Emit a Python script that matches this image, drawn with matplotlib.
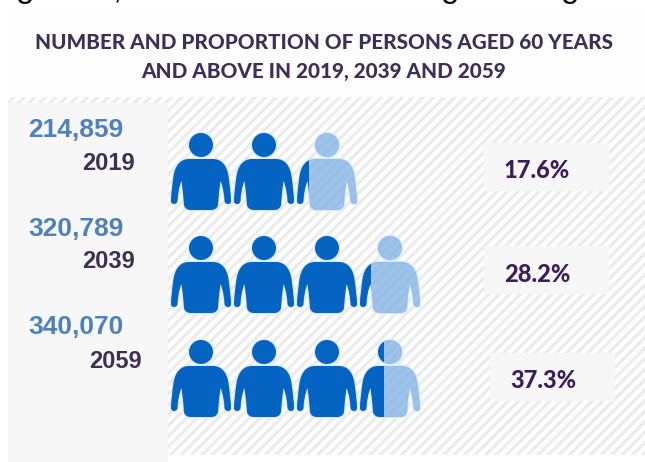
from matplotlib import pyplot as plt
from matplotlib.patches import Rectangle, Circle, PathPatch
from matplotlib.path import Path
import numpy as np

years = ['2019', '2039', '2059']
persons = ['214,859', '320,789', '340,070']
shares = ['17.6%', '28.2%', '37.3%']
# how many figures are filled
filled = [2.2, 3.18, 3.4]
icons = [3, 4, 4]

title = 'NUMBER AND PROPORTION OF PERSONS AGED 60 YEARS\nAND ABOVE IN 2019, 2039 AND 2059'

DARK = '#0563c1'
LIGHT = '#7fb0e4'
PURPLE = '#3d2f56'
PCT = '#3f1d5c'
BLUE = '#4f81bd'
PANEL = '#f7f7f7'

fig = plt.figure(figsize=(6.45, 4.62), dpi=100)
ax = fig.add_axes([0, 0, 1, 1])
ax.set_xlim(0, 645)
ax.set_ylim(462, 0)
ax.axis('off')


def body_path(cx, cy):
    verts = [
        (-12, 14),
        (-21, 14), (-26, 21), (-27.5, 31),
        (-29, 42), (-30, 50), (-30, 56),
        (-30, 60), (-24, 60), (-23.5, 56),
        (-23, 48), (-22, 42), (-19.5, 36),
        (-18.5, 44), (-17.5, 52), (-17, 60),
        (-16, 64), (-13, 65), (-10, 65),
        (10, 65),
        (13, 65), (16, 64), (17, 60),
        (17.5, 52), (18.5, 44), (19.5, 36),
        (22, 42), (23, 48), (23.5, 56),
        (24, 60), (30, 60), (30, 56),
        (30, 50), (29, 42), (27.5, 31),
        (26, 21), (21, 14), (12, 14),
        (-12, 14),
    ]
    codes = [Path.MOVETO]
    for v in range(6):
        codes += [Path.CURVE4] * 3
    codes += [Path.LINETO]
    for v in range(6):
        codes += [Path.CURVE4] * 3
    codes += [Path.CLOSEPOLY]
    verts = [(cx + x, cy + y) for x, y in verts]
    return Path(verts, codes)


def draw_person(cx, cy, frac):
    # light figure over the whole shape, dark one cut at frac of the width
    split = cx - 30 + 60 * frac
    ax.add_patch(PathPatch(body_path(cx, cy), fc='none', ec='#d8ebfa', lw=1.6, zorder=3))
    ax.add_patch(Circle((cx, cy), 12, fc='none', ec='#d8ebfa', lw=1.6, zorder=3))

    dark_clip = Rectangle((cx - 32, cy - 14), split - cx + 32, 82, transform=ax.transData)
    light_clip = Rectangle((split, cy - 14), cx + 32 - split, 82, transform=ax.transData)
    for color, alpha, clip in [(DARK, 1, dark_clip), (LIGHT, 0.75, light_clip)]:
        if clip.get_width() <= 0:
            continue
        b = PathPatch(body_path(cx, cy), fc=color, ec='none', alpha=alpha, zorder=4)
        h = Circle((cx, cy), 12, fc=color, ec='none', alpha=alpha, zorder=4)
        ax.add_patch(b)
        ax.add_patch(h)
        b.set_clip_path(clip)
        h.set_clip_path(clip)


# cut off caption of the page above the chart
for x, ch in [(25, 'g'), (118, ','), (450, 'g'), (570, 'g')]:
    ax.text(x, -3, ch, fontsize=24, family='Liberation Sans', ha='center', va='baseline',
            color='#111111', clip_on=False)

ax.add_patch(Rectangle((8, 8), 637, 89, fc='#fdfdfd', ec='none', zorder=0))
back = Rectangle((8, 97), 637, 358, fc='white', ec='none', zorder=0)
ax.add_patch(back)
for c in np.arange(0, 1120, 10.5):
    line, = ax.plot([c - 400, c], [490, 90], color='#ececec', lw=2.4, zorder=1,
                    solid_capstyle='butt')
    line.set_clip_path(back)

ax.add_patch(Rectangle((8, 103), 160, 359, fc=PANEL, ec='none', zorder=2))

ax.text(324, 57, title, fontsize=14.9, family='Lato', weight=900, color=PURPLE,
        ha='center', va='center', linespacing=1.6, zorder=5)

num_y = [130, 229, 327]
year_y = [163, 262, 362]
year_right = [135, 135, 142]
head_y = [145, 248, 352]
box_x = [484, 484, 490]
box_y = [143, 246, 353]

for i in range(len(years)):
    ax.text(28, num_y[i], persons[i], fontsize=19, family='Liberation Sans', weight='bold',
            color=BLUE, ha='left', va='center', zorder=5)
    ax.text(year_right[i], year_y[i], years[i], fontsize=17, family='Liberation Sans',
            weight='bold', color=PURPLE, ha='right', va='center', zorder=5)
    ax.add_patch(Rectangle((box_x[i], box_y[i]), 125, 48, fc=PANEL, ec='none', zorder=2))
    ax.text(box_x[i] + 20, box_y[i] + 28, shares[i], fontsize=17, family='Lato', weight=900,
            color=PCT, ha='left', va='center', zorder=5)
    for k in range(icons[i]):
        frac = min(max(filled[i] - k, 0), 1)
        draw_person(201 + 63 * k, head_y[i], frac)

fig.savefig('out.png', dpi=100)
